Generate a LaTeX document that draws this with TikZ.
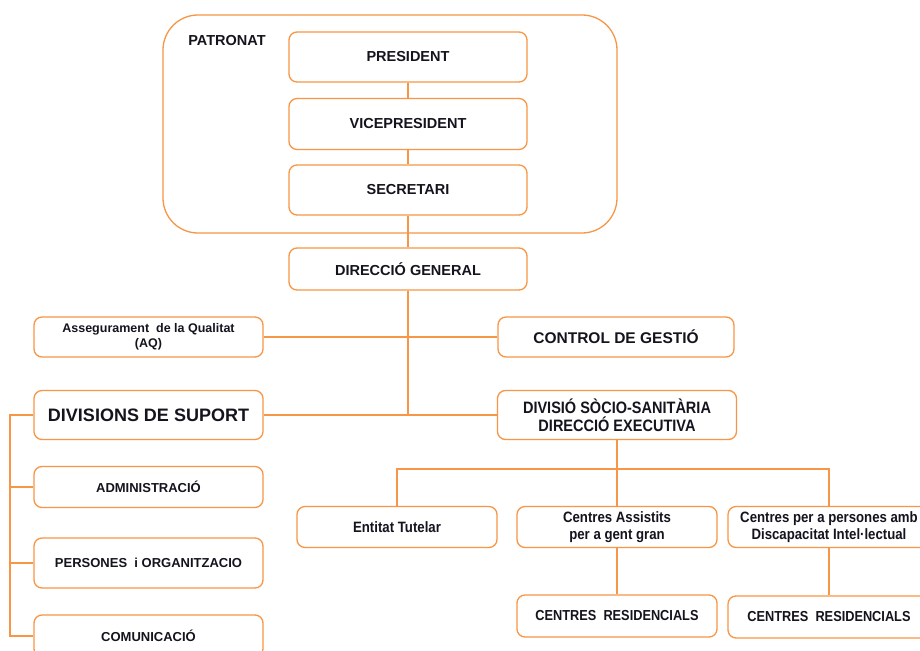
\documentclass[tikz,border=0pt]{standalone}
\usepackage{fontspec}
\setmainfont{Liberation Sans}
\newfontfamily\narrowf[FakeStretch=0.88]{Liberation Sans}
\definecolor{orgc}{RGB}{246,150,70}
\definecolor{txtc}{RGB}{20,20,30}
\begin{document}
\begin{tikzpicture}[x=1pt,y=-1pt,
  box/.style={draw=orgc, line width=1.3pt, rounded corners=8pt, fill=white,
    align=center, inner sep=0pt, text=txtc},
  conn/.style={draw=orgc, line width=1.4pt},
  bigf/.style={font=\fontsize{14.5}{17}\selectfont\bfseries},
  midf/.style={font=\fontsize{13}{15}\selectfont\bfseries},
  narf/.style={font=\narrowf\fontsize{15}{17.5}\selectfont\bfseries},
]
\useasboundingbox (0,0) rectangle (920,650);
\clip (0,0) rectangle (920,650);
\fill[white] (0,0) rectangle (920,650);

% Patronat frame
\node[draw=orgc, line width=1.3pt, rounded corners=35pt, minimum width=454pt, minimum height=218pt, inner sep=0pt] (pat) at (390,124) {};
\node[bigf, text=txtc, anchor=center] (patl) at (227,41) {PATRONAT};

\node[box, bigf, minimum width=238pt, minimum height=50pt] (pres) at (408,57) {PRESIDENT};
\node[box, bigf, minimum width=238pt, minimum height=51pt] (vice) at (408,124) {VICEPRESIDENT};
\node[box, bigf, minimum width=238pt, minimum height=50pt] (secr) at (408,190) {SECRETARI};
\node[box, bigf, minimum width=238pt, minimum height=42pt] (dg) at (408,269) {DIRECCI\'O GENERAL};

\node[box, font=\fontsize{12.5}{14.5}\selectfont\bfseries, minimum width=229pt, minimum height=40pt] (aq) at (148.5,337) {Assegurament\ \ de la Qualitat\\(AQ)};
\node[box, font=\fontsize{15.5}{18}\selectfont\bfseries, minimum width=236pt, minimum height=40pt] (cg) at (616,337) {CONTROL DE GESTI\'O};

\node[box, font=\fontsize{18}{21}\selectfont\bfseries, minimum width=229pt, minimum height=49pt] (ds) at (148.5,415) {DIVISIONS DE SUPORT};
\node[box, font=\narrowf\fontsize{16.5}{18}\selectfont\bfseries, minimum width=239pt, minimum height=49pt] (dss) at (617,415) {DIVISI\'O S\`OCIO-SANIT\`ARIA\\DIRECCI\'O EXECUTIVA};

\node[box, midf, minimum width=229pt, minimum height=41pt] (adm) at (148.5,487) {ADMINISTRACI\'O};
\node[box, midf, minimum width=229pt, minimum height=50pt] (per) at (148.5,563) {PERSONES\ \ i ORGANITZACIO};
\node[box, midf, minimum width=229pt, minimum height=42pt] (com) at (148.5,636) {COMUNICACI\'O};

\node[box, narf, minimum width=200pt, minimum height=41pt] (et) at (397,527) {Entitat Tutelar};
\node[box, narf, minimum width=200pt, minimum height=41pt] (ca) at (617,527) {Centres Assistits\\per a gent gran};
\node[box, narf, minimum width=202pt, minimum height=41pt] (cp) at (829,527) {Centres per a persones amb\\Discapacitat Intel{\textperiodcentered}lectual};

\node[box, font=\narrowf\fontsize{14.5}{17}\selectfont\bfseries, minimum width=200pt, minimum height=42pt] (cr1) at (617,616) {CENTRES\ \ RESIDENCIALS};
\node[box, font=\narrowf\fontsize{14.5}{17}\selectfont\bfseries, minimum width=202pt, minimum height=42pt] (cr2) at (829,617) {CENTRES\ \ RESIDENCIALS};

% connectors
\draw[conn] (pres.south) -- (vice.north);
\draw[conn] (vice.south) -- (secr.north);
\draw[conn] (secr.south) -- (dg.north);
\draw[conn] (dg.south) -- (dg.south |- ds.east);
\draw[conn] (aq.east) -- (cg.west);
\draw[conn] (ds.east) -- (dss.west);

\draw[conn] (ds.west) -- ++(-23.5,0) coordinate (bk) |- (com.west);
\draw[conn] (bk |- adm.west) -- (adm.west);
\draw[conn] (bk |- per.west) -- (per.west);

\coordinate (hj) at (617,469);
\draw[conn] (dss.south) -- (hj);
\draw[conn] (et.north) |- (hj) -| (cp.north);
\draw[conn] (hj) -- (ca.north);
\draw[conn] (ca.south) -- (cr1.north);
\draw[conn] (cp.south) -- (cr2.north);
\end{tikzpicture}
\end{document}
